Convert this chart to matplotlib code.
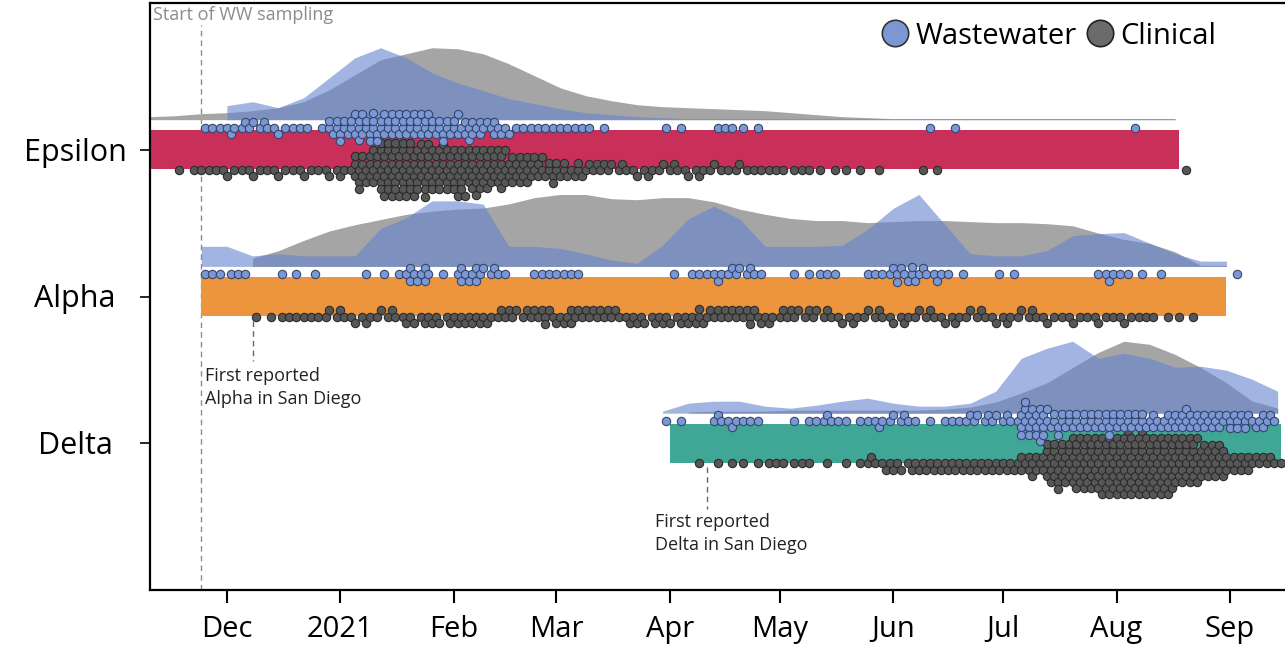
import numpy as np
import matplotlib.pyplot as plt
import matplotlib.dates as mdates
import matplotlib.transforms as mtransforms
from matplotlib.lines import Line2D

plt.rcParams['font.family'] = ['Open Sans', 'DejaVu Sans']

nan = np.nan

# week grid: week 0 starts 2020-11-10, 45 weeks
week0 = np.datetime64('2020-11-10')
n_weeks = 45

variants = ['Epsilon', 'Alpha', 'Delta']
bar_colors = ['#c8305a', '#ec953c', '#40a696']
bar_start = ['2020-11-01', '2020-11-24', '2021-04-01']
bar_end = ['2021-08-18', '2021-08-31', '2021-09-15']

ww_start = '2020-11-24'
first_alpha = '2020-12-08'
first_delta = '2021-04-11'

month_ticks = ['2020-12-01', '2021-01-01', '2021-02-01', '2021-03-01', '2021-04-01',
               '2021-05-01', '2021-06-01', '2021-07-01', '2021-08-01', '2021-09-01']
month_labels = ['Dec', '2021', 'Feb', 'Mar', 'Apr', 'May', 'Jun', 'Jul', 'Aug', 'Sep']

# sequences per week (one dot each)
eps_clin = [0, 2, 4, 4, 4, 4, 4, 5, 20, 32, 30, 26, 27, 23, 17, 13,
            9, 7, 5, 5, 5, 5, 4, 4, 3, 3, 2, 2, 1, 0, 2, 0,
            0, 0, 0, 0, 0, 0, 0, 0, 1, 0, 0, 0, 0]
eps_ww = [0, 0, 3, 6, 5, 4, 2, 12, 16, 14, 14, 12, 12, 8, 4, 3,
          4, 2, 0, 0, 2, 0, 3, 2, 0, 0, 0, 0, 0, 0, 1, 1,
          0, 0, 0, 0, 0, 0, 1, 0, 0, 0, 0, 0, 0]
alp_clin = [0, 0, 0, 0, 2, 3, 4, 5, 5, 5, 6, 6, 7, 6, 6, 8,
            8, 7, 6, 6, 6, 8, 7, 8, 6, 6, 5, 5, 5, 5, 5, 5,
            5, 5, 5, 4, 4, 4, 4, 2, 2, 0, 0, 0, 0]
alp_ww = [0, 0, 3, 3, 0, 2, 1, 0, 1, 2, 9, 1, 9, 5, 0, 4,
          3, 0, 0, 0, 1, 3, 6, 5, 0, 2, 3, 0, 4, 9, 6, 2,
          0, 2, 0, 0, 0, 5, 2, 1, 0, 0, 1, 0, 0]
dlt_clin = [0] * 21 + [1, 2, 2, 3, 3, 1, 2,
                       6, 6, 7, 7, 7, 7, 12, 26,
                       31, 35, 37, 35, 28, 21, 11, 7, 3]
dlt_ww = [0] * 20 + [2, 0, 6, 3, 0, 2, 5, 2,
                     5, 5, 1, 4, 6, 5, 20, 12,
                     10, 12, 10, 9, 12, 10, 10, 8, 0]

# relative frequency curves per week
eps_clin_area = [3, 4, 6, 7, 9, 12, 18, 30, 45, 60, 66, 72, 71, 66, 56, 44,
                 32, 24, 19, 15, 13, 12, 11, 10, 9, 7, 5, 3, 2, 1, 1, 1,
                 1, 1, 1, 1, 1, 1, 1, 1, 1, nan, nan, nan, nan]
eps_ww_area = [nan, nan, nan, 14, 18, 12, 22, 42, 62, 72, 62, 47, 37, 29, 21, 16,
               11, 7, 5, 3, 2, 1, 1, 1, 1, 1, 1, 1, 1, 1, 1, 1,
               1, 1, 1, 1, 1, 1, 1, 1, 1, nan, nan, nan, nan]
alp_clin_area = [nan, nan, nan, nan, 8, 15, 25, 34, 40, 45, 50, 53, 55, 56, 60, 66,
                 69, 69, 65, 64, 66, 66, 62, 55, 50, 46, 44, 44, 42, 43, 44, 44,
                 43, 42, 42, 41, 39, 32, 26, 22, 14, 1, 1, nan, nan]
alp_ww_area = [nan, nan, 19, 19, 10, 12, 10, 10, 10, 36, 46, 62, 62, 59, 19, 19,
               17, 12, 6, 3, 20, 45, 57, 45, 19, 19, 19, 20, 35, 55, 68, 40,
               12, 10, 10, 15, 29, 31, 32, 22, 12, 5, 5, nan, nan]
dlt_clin_area = [nan] * 21 + [1, 2, 2, 2, 3, 3, 3,
                              3, 3, 3, 4, 6, 11, 20, 30,
                              45, 60, 71, 68, 58, 45, 30, 12, 5]
dlt_ww_area = [nan] * 20 + [2, 10, 12, 12, 7, 5, 8, 12,
                            15, 10, 7, 7, 10, 22, 55, 65,
                            72, 55, 60, 55, 46, 47, 43, 34, 22]

clin_counts = [eps_clin, alp_clin, dlt_clin]
ww_counts = [eps_ww, alp_ww, dlt_ww]
clin_areas = [eps_clin_area, alp_clin_area, dlt_clin_area]
ww_areas = [eps_ww_area, alp_ww_area, dlt_ww_area]

wk = mdates.date2num(week0) + 7 * np.arange(n_weeks)


def num(d):
    return mdates.date2num(np.datetime64(d))


def dot_days(counts):
    # spread each week's dots over its days
    xs = []
    for w, n in enumerate(counts):
        per_day = np.full(7, n // 7)
        r = n % 7
        if r:
            per_day[((np.arange(r) + 0.5) * 7 / r).astype(int)] += 1
        for d, c in enumerate(per_day):
            xs += [wk[w] + d] * c
    return np.array(xs)


def swarm(xpx, diam):
    # simple beeswarm: closest free offset to the centre line
    ys = []
    for i, x in enumerate(xpx):
        spans = []
        j = i - 1
        while j >= 0 and x - xpx[j] < diam:
            h = np.sqrt(diam ** 2 - (x - xpx[j]) ** 2)
            spans.append((ys[j] - h, ys[j] + h))
            j -= 1
        side = 1 if i % 2 else -1
        cands = sorted([0.0] + [v for sp in spans for v in sp], key=lambda c: (round(abs(c), 6), c * side))
        for c in cands:
            if all(c <= lo + 1e-6 or c >= hi - 1e-6 for lo, hi in spans):
                ys.append(c)
                break
    return np.array(ys)


fig = plt.figure(figsize=(12.85, 6.46), dpi=100)
ax = fig.add_axes([150 / 1285, 56 / 646, 1135 / 1285, 587 / 646])
ax.set_xlim(num('2020-11-10'), num('2021-09-16'))
ax.set_ylim(3.0, -1.0)

px_day = ax.bbox.width / (ax.get_xlim()[1] - ax.get_xlim()[0])
px_unit = ax.bbox.height / 4.0
DIAM = 7.2

clin_face, clin_edge = '#575757', '#2b2b2b'
ww_face, ww_edge = '#7b98d4', '#34466b'


def draw_dots(counts, row, face, edge, z):
    x = dot_days(counts)
    y = row + swarm(x * px_day, DIAM) / px_unit
    ax.scatter(x, y, s=36, c=face, edgecolors=edge, linewidths=0.8, zorder=z)


for i, name in enumerate(variants):
    ax.barh(i, num(bar_end[i]) - num(bar_start[i]), left=num(bar_start[i]),
            height=0.266, color=bar_colors[i], zorder=1)

    base = i - 0.205
    ca = np.array(clin_areas[i], dtype=float)
    wa = np.array(ww_areas[i], dtype=float)
    ax.fill_between(wk, base, base - ca / np.nanmax(ca) * 0.49,
                    color='#a5a5a5', lw=0, zorder=2)
    ax.fill_between(wk, base, base - wa / np.nanmax(wa) * 0.49,
                    color='#6583ce', alpha=0.6, lw=0, zorder=3)

    draw_dots(clin_counts[i], i + 0.137, clin_face, clin_edge, 4)
    draw_dots(ww_counts[i], i - 0.15, ww_face, ww_edge, 5)

# annotations
ax.axvline(num(ww_start), ymin=0, ymax=0.962, color='#8c8c8c', ls=(0, (4, 3)), lw=1, zorder=0)
ax.text(0.003, 0.995, 'Start of WW sampling', transform=ax.transAxes, va='top',
        ha='left', color='#8c8c8c', fontsize=13)

ax.plot([num(first_alpha)] * 2, [1.167, 1.44], color='#666666', ls=(0, (4, 3)), lw=1, zorder=0)
ax.text(num('2020-11-25'), 1.48, 'First reported\nAlpha in San Diego', va='top', ha='left',
        fontsize=13, color='#222222', linespacing=1.35)
ax.plot([num(first_delta)] * 2, [2.164, 2.45], color='#666666', ls=(0, (4, 3)), lw=1, zorder=0)
ax.text(num('2021-03-28'), 2.475, 'First reported\nDelta in San Diego', va='top', ha='left',
        fontsize=13, color='#222222', linespacing=1.35)

# axes
ax.set_xticks([num(d) for d in month_ticks])
ax.set_xticklabels(month_labels)
ax.set_yticks(range(len(variants)))
ax.set_yticklabels([])
lab_tr = mtransforms.blended_transform_factory(ax.transAxes, ax.transData)
for i, name in enumerate(variants):
    ax.text(-75 / 1135, i + 0.02, name, transform=lab_tr, ha='center', va='center', fontsize=22)

ax.tick_params(axis='x', labelsize=21, length=9, width=1.5, pad=9)
ax.tick_params(axis='y', length=7, width=1.2)
for s in ['left', 'bottom', 'top']:
    ax.spines[s].set_linewidth(1.6)
ax.spines['right'].set_visible(False)

handles = [Line2D([], [], marker='o', ls='', ms=19, mfc=ww_face, mec='#333333', mew=1.2, label='Wastewater'),
           Line2D([], [], marker='o', ls='', ms=19, mfc='#6b6b6b', mec='#222222', mew=1.2, label='Clinical')]
ax.legend(handles=handles, loc='upper right', bbox_to_anchor=(0.955, 0.998), ncol=2, frameon=False,
          fontsize=21, handletextpad=0.2, columnspacing=0.3, handlelength=1.0, borderaxespad=0.2)

fig.savefig('out.png', dpi=100)
